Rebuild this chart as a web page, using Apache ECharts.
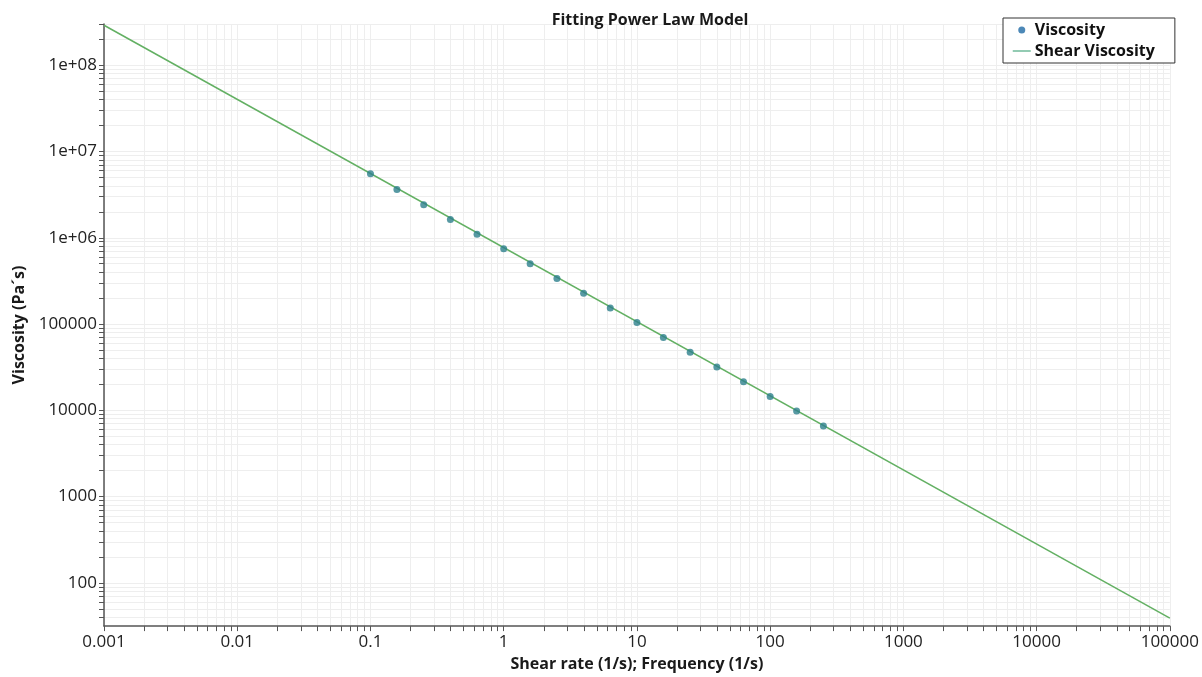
<!DOCTYPE html>
<html>
<head>
<meta charset="utf-8">
<script src="https://cdn.jsdelivr.net/npm/echarts@6/dist/echarts.min.js"></script>
<style>
html,body{margin:0;padding:0;background:#fff;}
#chart{width:1202px;height:677px;}
</style>
</head>
<body>
<div id="chart"></div>
<script>
// Measured points (shear rate, viscosity)
var shearRate = [0.1, 0.158, 0.251, 0.398, 0.631, 1, 1.58, 2.51, 3.98, 6.31, 10, 15.8, 25.1, 39.8, 63.1, 100, 158, 251];
var viscosity = [5.5e6, 3.62e6, 2.42e6, 1.63e6, 1.1e6, 7.45e5, 5.0e5, 3.38e5, 2.27e5, 1.53e5, 1.04e5, 7.0e4, 4.72e4, 3.18e4, 2.15e4, 1.45e4, 9.8e3, 6.6e3];
// Fitted power-law line endpoints
var fitRate = [0.001, 100000];
var fitViscosity = [2.9e8, 39];
// Axis tick labels
var xTickValues = [0.001, 0.01, 0.1, 1, 10, 100, 1000, 10000, 100000];
var xTickLabels = ['0.001', '0.01', '0.1', '1', '10', '100', '1000', '10000', '100000'];
var yTickValues = [100, 1000, 10000, 100000, 1e6, 1e7, 1e8];
var yTickLabels = ['100', '1000', '10000', '100000', '1e+06', '1e+07', '1e+08'];

function minorValues(decadeStarts, lo, hi) {
  var out = [];
  decadeStarts.forEach(function (d) {
    for (var m = 1; m <= 9; m++) {
      var v = +(d * m).toPrecision(6);
      if (v >= lo && v <= hi) out.push(v);
    }
  });
  return out;
}
var xAllTicks = minorValues([0.001, 0.01, 0.1, 1, 10, 100, 1000, 10000, 100000], 0.001, 100000);
var yAllTicks = minorValues([10, 100, 1000, 10000, 100000, 1e6, 1e7, 1e8], 31.6, 3e8);

function pair(a, b) { return a.map(function (v, i) { return [v, b[i]]; }); }
function labelFor(values, labels) {
  return function (v) {
    for (var i = 0; i < values.length; i++) {
      if (Math.abs(v / values[i] - 1) < 1e-6) return labels[i];
    }
    return '';
  };
}

var FONT = '"Open Sans", "Noto Sans", sans-serif';
var chart = echarts.init(document.getElementById('chart'), null, {renderer: 'canvas'});
chart.setOption({
  animation: false,
  backgroundColor: '#ffffff',
  textStyle: {fontFamily: FONT},
  title: {
    text: 'Fitting Power Law Model',
    left: 645, top: 7, textAlign: 'center',
    textStyle: {fontFamily: FONT, fontSize: 16, fontWeight: 'bold', color: '#1a1a1a'}
  },
  legend: {
    left: 1003, top: 18, orient: 'vertical',
    borderColor: '#333', borderWidth: 1, padding: [4, 20, 4, 9],
    itemGap: 5, itemWidth: 18, itemHeight: 7,
    backgroundColor: '#fff',
    textStyle: {fontFamily: FONT, fontSize: 16, fontWeight: 'bold', color: '#111', padding: [0, 0, 0, -1]},
    data: [
      {name: 'Viscosity', icon: 'circle', itemStyle: {color: '#1f6aa5'}},
      {name: 'Shear Viscosity', itemStyle: {opacity: 0}, lineStyle: {color: '#6fba9a', width: 1.5}}
    ]
  },
  grid: {left: 104, right: 31, top: 24, bottom: 44, containLabel: false},
  xAxis: {
    type: 'log', logBase: 10, min: 0.001, max: 100000,
    name: 'Shear rate (1/s); Frequency (1/s)', nameLocation: 'middle', nameGap: 25,
    nameTextStyle: {fontFamily: FONT, fontSize: 16, fontWeight: 'bold', color: '#1a1a1a'},
    axisLine: {show: true, lineStyle: {color: '#555', width: 1.5}},
    axisTick: {show: true, length: 5, lineStyle: {color: '#555'}, customValues: xAllTicks},
    axisLabel: {customValues: xTickValues, formatter: labelFor(xTickValues, xTickLabels),
      fontFamily: FONT, fontSize: 17, color: '#222', margin: 8},
    splitLine: {show: true, lineStyle: {color: '#eeeeee', width: 1}}
  },
  yAxis: {
    type: 'log', logBase: 10, min: 31.6, max: 3e8,
    name: 'Viscosity (Pa´s)', nameLocation: 'middle', nameGap: 77, nameRotate: 90,
    nameTextStyle: {fontFamily: FONT, fontSize: 16, fontWeight: 'bold', color: '#1a1a1a'},
    axisLine: {show: true, lineStyle: {color: '#555', width: 1.5}},
    axisTick: {show: true, length: 5, lineStyle: {color: '#555'}, customValues: yAllTicks},
    axisLabel: {customValues: yTickValues, formatter: labelFor(yTickValues, yTickLabels),
      fontFamily: FONT, fontSize: 17, color: '#222', margin: 7},
    splitLine: {show: true, lineStyle: {color: '#eeeeee', width: 1}}
  },
  series: [
    {
      name: 'Viscosity', type: 'scatter', data: pair(shearRate, viscosity),
      symbol: 'circle', symbolSize: 7, itemStyle: {color: '#2d7f8c'}, z: 3
    },
    {
      name: 'Shear Viscosity', type: 'line', data: pair(fitRate, fitViscosity),
      symbol: 'none', lineStyle: {color: '#63b063', width: 1.5}, itemStyle: {color: '#63b063'}, z: 2
    }
  ]
});
</script>
</body>
</html>
